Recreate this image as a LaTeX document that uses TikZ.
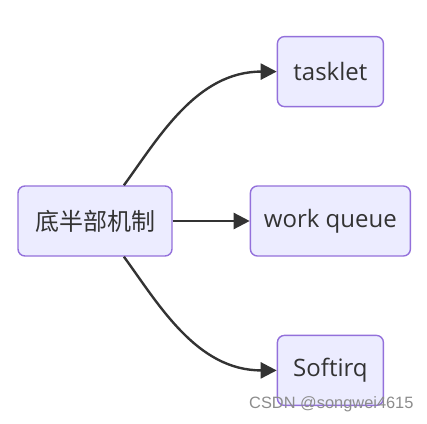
\documentclass[tikz,border=0pt]{standalone}
\usepackage{fontspec}
\setmainfont{Open Sans}
\newfontfamily\cjk{Noto Sans CJK SC}
\newfontfamily\markfont{Liberation Sans}
\usepackage{xcolor}
\usetikzlibrary{arrows.meta, positioning}
\definecolor{nodefill}{HTML}{ECECFF}
\definecolor{nodeline}{HTML}{9370DB}
\definecolor{ink}{HTML}{333333}
\definecolor{markgray}{HTML}{8C8C8C}
\tikzset{
  mbox/.style  = {draw=nodeline, fill=nodefill, line width=1.4pt, rectangle,
                  rounded corners=7pt, minimum height=70pt, inner sep=0pt,
                  text=ink, font=\fontsize{24}{28}\selectfont},
  flow/.style  = {-{Triangle[length=16pt, width=16pt]}, draw=ink, line width=2.4pt},
  wmark/.style = {font=\markfont\fontsize{16.4}{18}\selectfont, text=markgray, inner sep=0pt},
}
\begin{document}
\begin{tikzpicture}[x=1pt, y=1pt]
  \useasboundingbox (0,0) rectangle (427,423);

  \node[mbox, minimum width=154pt] (bh) at (95,202) {\cjk 底半部机制};
  \node[mbox, minimum width=160pt, right=77pt of bh] (wq) {work queue};
  \node[mbox, minimum width=106pt, above=78pt of wq] (tl) {tasklet};
  \node[mbox, minimum width=106pt, below=78pt of wq] (si) {Softirq};

  \draw[flow] (bh.51) .. controls +(35,48) and +(-80,0) .. (tl.west);
  \draw[flow] (bh) -- (wq);
  \draw[flow] (bh.-51) .. controls +(35,-48) and +(-80,0) .. (si.west);

  \node[wmark, anchor=west] (mark) at (249,19) {CSDN @songwei4615};
\end{tikzpicture}
\end{document}
